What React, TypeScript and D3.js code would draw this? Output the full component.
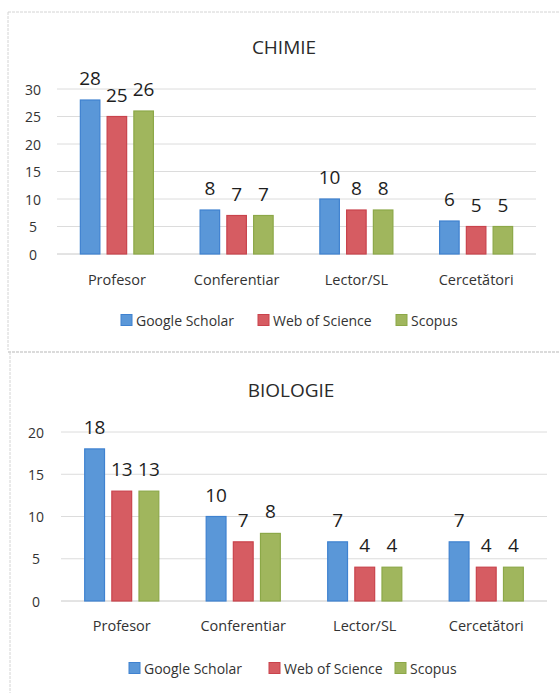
import React from "react";
import * as d3 from "d3";

const categories = ["Profesor", "Conferentiar", "Lector/SL", "Cercetători"];
const seriesNames = ["Google Scholar", "Web of Science", "Scopus"];

const chimieGoogle = [28, 8, 10, 6];
const chimieWos = [25, 7, 8, 5];
const chimieScopus = [26, 7, 8, 5];
const chimieTicks = [0, 5, 10, 15, 20, 25, 30];

const biologieGoogle = [18, 10, 7, 7];
const biologieWos = [13, 7, 4, 4];
const biologieScopus = [13, 8, 4, 4];
const biologieTicks = [0, 5, 10, 15, 20];

const fills = ["#5a97d8", "#d65c62", "#a0b65d"];
const strokes = ["#3f82d0", "#c9434c", "#8ca848"];

const FONT = "'Open Sans', 'Noto Sans', sans-serif";

type PanelProps = {
  title: string;
  values: number[][];
  ticks: number[];
  x0: number;
  x1: number;
  yZero: number;
  yTop: number;
  titleX: number;
  titleY: number;
  catY: number;
  legendY: number;
  legendX: number[];
  tickX: number;
};

function Panel(p: PanelProps) {
  const maxTick = p.ticks[p.ticks.length - 1];
  const x = d3
    .scaleBand<string>()
    .domain(categories)
    .range([p.x0, p.x1])
    .paddingInner(0.39)
    .paddingOuter(0.195);
  const xs = d3
    .scaleBand<string>()
    .domain(seriesNames)
    .range([0, x.bandwidth()])
    .paddingInner(0.27);
  const y = d3.scaleLinear().domain([0, maxTick]).range([p.yZero, p.yTop]);

  return (
    <g>
      <text
        x={p.titleX}
        y={p.titleY}
        textAnchor="middle"
        dominantBaseline="central"
        fontSize={19}
        fill="#2a2a2a"
        fontFamily={FONT}
      >
        {p.title}
      </text>
      {p.ticks.map((t) => (
        <g key={t}>
          <line
            x1={p.x0}
            x2={p.x1}
            y1={y(t)}
            y2={y(t)}
            stroke={t === 0 ? "#c8c8c8" : "#dcdcdc"}
            strokeWidth={1}
          />
          <text
            x={p.tickX}
            y={y(t)}
            textAnchor="middle"
            dominantBaseline="central"
            fontSize={14}
            fill="#333"
            fontFamily={FONT}
          >
            {t}
          </text>
        </g>
      ))}
      {categories.map((c, ci) => (
        <g key={c}>
          {seriesNames.map((s, si) => {
            const v = p.values[si][ci];
            const bx = (x(c) as number) + (xs(s) as number);
            return (
              <g key={s}>
                <rect
                  x={bx}
                  y={y(v)}
                  width={xs.bandwidth()}
                  height={y(0) - y(v)}
                  fill={fills[si]}
                  stroke={strokes[si]}
                  strokeWidth={1.2}
                />
                <text
                  x={bx + xs.bandwidth() / 2}
                  y={y(v) - 22}
                  textAnchor="middle"
                  dominantBaseline="central"
                  fontSize={19}
                  fill="#1e1e1e"
                  fontFamily={FONT}
                >
                  {v}
                </text>
              </g>
            );
          })}
          <text
            x={(x(c) as number) + x.bandwidth() / 2}
            y={p.catY}
            textAnchor="middle"
            dominantBaseline="central"
            fontSize={14.5}
            fill="#333"
            fontFamily={FONT}
          >
            {c}
          </text>
        </g>
      ))}
      {seriesNames.map((s, si) => (
        <g key={s}>
          <rect
            x={p.legendX[si]}
            y={p.legendY - 5.5}
            width={11}
            height={11}
            fill={fills[si]}
            stroke={strokes[si]}
            strokeWidth={1}
          />
          <text
            x={p.legendX[si] + 15}
            y={p.legendY}
            dominantBaseline="central"
            fontSize={14}
            fill="#333"
            fontFamily={FONT}
          >
            {s}
          </text>
        </g>
      ))}
    </g>
  );
}

export default function App() {
  return (
    <svg
      width={559}
      height={693}
      style={{ position: "absolute", left: 0, top: 0, background: "#fff" }}
    >
      <rect x={0} y={0} width={559} height={693} fill="#fff" />
      {/* panel frames */}
      <line x1={8} x2={559} y1={12} y2={12} stroke="#d4d4d4" strokeWidth={1} strokeDasharray="3 1" />
      <line x1={8} x2={8} y1={12} y2={350} stroke="#d4d4d4" strokeWidth={1} strokeDasharray="3 1" />
      <line x1={8} x2={559} y1={352} y2={352} stroke="#cfcfcf" strokeWidth={1.5} strokeDasharray="3 1" />
      <line x1={10} x2={10} y1={352} y2={693} stroke="#d4d4d4" strokeWidth={1} strokeDasharray="3 1" />

      <Panel
        title="CHIMIE"
        values={[chimieGoogle, chimieWos, chimieScopus]}
        ticks={chimieTicks}
        x0={57}
        x1={536}
        yZero={254}
        yTop={89}
        titleX={284}
        titleY={47}
        catY={279}
        legendY={320}
        legendX={[121, 258, 396]}
        tickX={33}
      />
      <Panel
        title="BIOLOGIE"
        values={[biologieGoogle, biologieWos, biologieScopus]}
        ticks={biologieTicks}
        x0={61}
        x1={547}
        yZero={601}
        yTop={432}
        titleX={291}
        titleY={390}
        catY={625}
        legendY={668}
        legendX={[129, 269, 395]}
        tickX={36}
      />
    </svg>
  );
}
